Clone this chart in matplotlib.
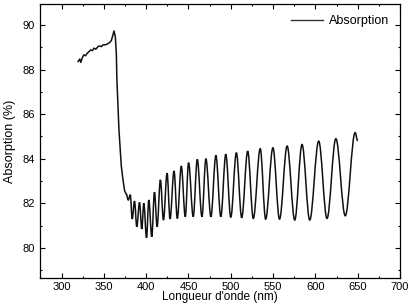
import matplotlib
matplotlib.use("Agg")
import matplotlib.pyplot as plt
from matplotlib.path import Path
from matplotlib.patches import PathPatch
from matplotlib.lines import Line2D
from matplotlib.ticker import MultipleLocator

plt.rcParams['font.family'] = ['Liberation Sans', 'DejaVu Sans']

# noisy plateau and absorption edge (nm, %)
edge_nm = [319.5, 321.5, 322.7, 324.3, 326.2, 328.2, 330.6, 332.5, 334.5, 336.5,
           338.4, 340.4, 343.1, 345.1, 347.1, 349.0, 351.8, 354.2, 356.8, 358.8,
           360.7, 361.9, 363.5, 364.7, 365.4, 367.8, 370.6, 372.5, 374.5, 376.5]
edge_abs = [88.36, 88.47, 88.32, 88.51, 88.66, 88.62, 88.74, 88.81, 88.88, 88.85,
            88.96, 88.91, 89.03, 89.06, 89.03, 89.11, 89.11, 89.15, 89.21, 89.30,
            89.55, 89.73, 89.48, 88.74, 87.54, 85.31, 83.67, 83.08, 82.56, 82.41]

# interference fringes: successive extrema (nm, %)
fringe_nm = [376.5, 378.8, 381.2, 383.5, 386.2, 388.9, 392.1, 394.8, 397.2, 400.4,
             403.1, 406.6, 409.8, 412.9, 416.8, 420.4, 424.7, 428.2, 432.9, 436.8,
             441.5, 446.2, 450.1, 455.6, 460.4, 465.9, 470.6, 476.5, 482.4, 488.2,
             494.1, 500.0, 506.6, 512.9, 520.0, 526.6, 534.8, 541.2, 549.8, 557.6,
             566.6, 575.6, 584.2, 593.3, 603.9, 613.7, 624.2, 635.3, 647.0, 650.0]
fringe_abs = [82.41, 82.15, 82.38, 81.30, 82.10, 80.95, 82.04, 80.85, 82.00, 80.45,
              82.15, 80.50, 82.50, 80.95, 83.05, 81.25, 83.35, 81.30, 83.45, 81.32,
              83.67, 81.40, 83.82, 81.40, 83.97, 81.40, 84.00, 81.40, 84.15, 81.40,
              84.20, 81.37, 84.27, 81.35, 84.34, 81.32, 84.45, 81.29, 84.49, 81.29,
              84.57, 81.25, 84.64, 81.25, 84.79, 81.32, 84.90, 81.44, 85.17, 84.80]

fig = plt.figure(figsize=(4.1, 3.04), dpi=100)
ax_bottom = 278  # px from top
ax = fig.add_axes([40/410, 1-ax_bottom/304, 360/410, (ax_bottom-4)/304])

line_kw = dict(color='#111111', lw=1.1)
ax.plot(edge_nm, edge_abs, **line_kw)

# smooth connection between extrema (horizontal tangents at each extremum)
verts = [(fringe_nm[0], fringe_abs[0])]
codes = [Path.MOVETO]
k = 0.36
for i in range(len(fringe_nm) - 1):
    x0, y0 = fringe_nm[i], fringe_abs[i]
    x1, y1 = fringe_nm[i+1], fringe_abs[i+1]
    dx = x1 - x0
    verts += [(x0 + k*dx, y0), (x1 - k*dx, y1), (x1, y1)]
    codes += [Path.CURVE4] * 3
ax.add_patch(PathPatch(Path(verts, codes), fill=False, edgecolor='#111111', lw=1.1))

ax.set_xlim(274.5, 700)
ax.set_ylim(78.65, 90.94)
ax.xaxis.set_major_locator(MultipleLocator(50))
ax.xaxis.set_minor_locator(MultipleLocator(25))
ax.yaxis.set_major_locator(MultipleLocator(2))
ax.yaxis.set_minor_locator(MultipleLocator(1))
ax.tick_params(which='both', direction='in', top=True, right=True, labelsize=8, width=0.8)
ax.tick_params(which='major', length=3.6, pad=3.5)
ax.tick_params(axis='x', which='major', pad=3)
ax.tick_params(which='minor', length=1.6)
for s in ax.spines.values():
    s.set_linewidth(0.9)

ax.set_xlabel("Longueur d'onde (nm)", fontsize=8.5, va='bottom')
# put the x label right at the bottom edge of the figure
ax.xaxis.set_label_coords(0.5, (1 - (304 - ax_bottom)) / (ax_bottom - 4))
ax.set_ylabel("Absorption (%)", fontsize=9, labelpad=5)

handle = Line2D([], [], color='#333333', lw=1.0)
ax.legend([handle], ['Absorption'], loc='upper right', frameon=False, fontsize=9,
          handlelength=2.6, handletextpad=0.4, borderaxespad=0.5)

fig.savefig("out.png", dpi=100)
